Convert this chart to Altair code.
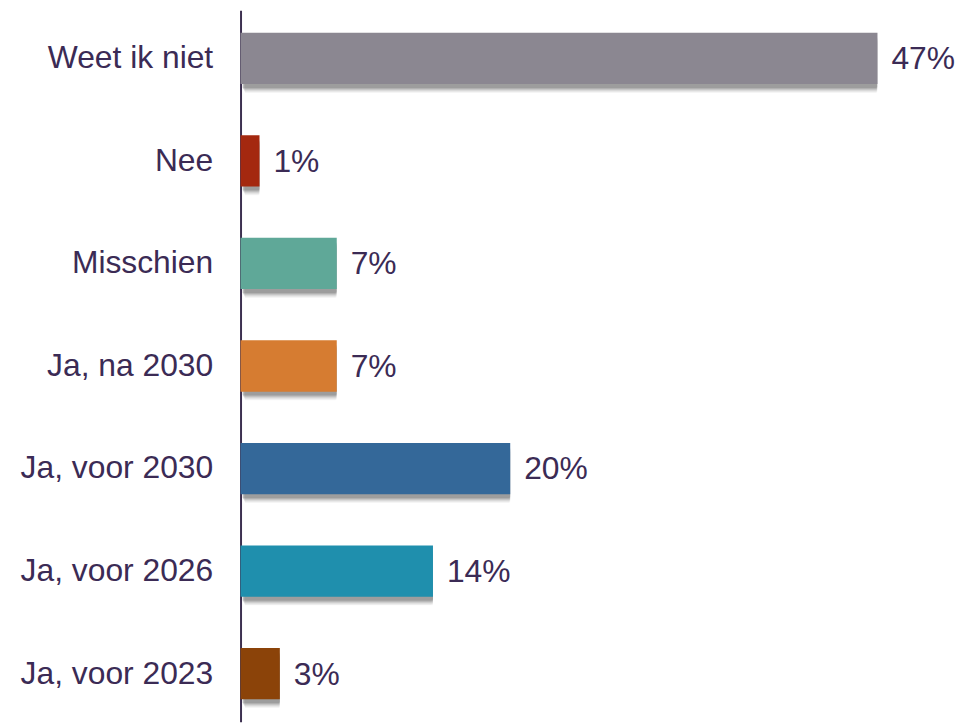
import altair as alt
import pandas as pd

categories = ["Weet ik niet", "Nee", "Misschien", "Ja, na 2030", "Ja, voor 2030", "Ja, voor 2026", "Ja, voor 2023"]
values = [47, 1.4, 7.1, 7.1, 19.9, 14.2, 2.9]
labels = ["47%", "1%", "7%", "7%", "20%", "14%", "3%"]
colors = ["#8b8791", "#a4280f", "#5fa898", "#d67c31", "#346899", "#1f8fad", "#8b4309"]

df = pd.DataFrame({"cat": categories, "val": values, "lab": labels, "col": colors})

TXT = "#3b2b55"
FONT = "Liberation Sans"
FS = 32

y = alt.Y("cat:N", sort=categories, title=None,
          scale=alt.Scale(paddingInner=0.5, paddingOuter=0.22),
          axis=alt.Axis(labelFontSize=FS, labelColor=TXT, labelFont=FONT,
                        labelPadding=28, ticks=False, domainColor="#3d3050",
                        domainWidth=2, labelLimit=400, grid=False))
x = alt.X("val:Q", title=None, scale=alt.Scale(domain=[0, 53.09], nice=False),
          axis=None)

base = alt.Chart(df)

shadows = []
for off, op in [(9, 0.06), (8, 0.08), (7, 0.10), (6, 0.14), (5, 0.18), (4, 0.22)]:
    shadows.append(base.mark_bar(color="#555555", opacity=op, cornerRadius=2).encode(
        y=y, x=x, yOffset=alt.value(off), xOffset=alt.value(off * 0.5)))

bars = base.mark_bar().encode(y=y, x=x, color=alt.Color("col:N", scale=None))
text = base.mark_text(align="left", baseline="middle", dx=14, dy=1, fontSize=FS,
                      font=FONT, color=TXT).encode(y=y, x=x, text="lab:N")

chart = alt.layer(*shadows, bars, text).properties(
    width=724, height=716,
    autosize=alt.AutoSizeParams(type="none"),
    padding={"left": 234, "top": 0, "right": 0, "bottom": 0},
).configure(background="white", view=alt.ViewConfig(stroke=None, strokeWidth=0))

chart.save("out.html", embed_options={"renderer": "svg", "actions": False})
